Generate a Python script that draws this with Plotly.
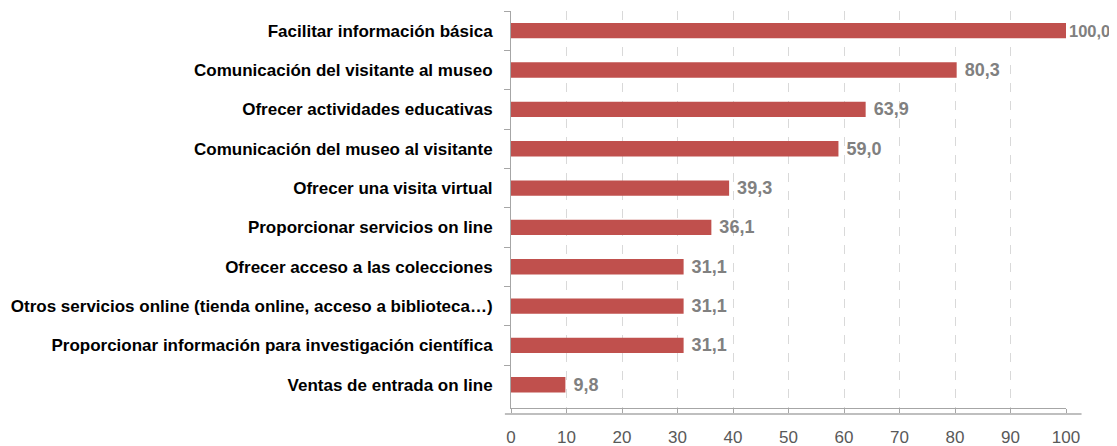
import plotly.graph_objects as go

categories = [
    "Facilitar información básica",
    "Comunicación del visitante al museo",
    "Ofrecer actividades educativas",
    "Comunicación del museo al visitante",
    "Ofrecer una visita virtual",
    "Proporcionar servicios on line",
    "Ofrecer acceso a las colecciones",
    "Otros servicios online (tienda online, acceso a biblioteca…)",
    "Proporcionar información para investigación científica",
    "Ventas de entrada on line",
]
values = [100.0, 80.3, 63.9, 59.0, 39.3, 36.1, 31.1, 31.1, 31.1, 9.8]
x_ticks = [0, 10, 20, 30, 40, 50, 60, 70, 80, 90, 100]

labels = [("" if v >= 100 else "\u00a0") + f"{v:.1f}".replace(".", ",") for v in values]
label_sizes = [16.5 if v >= 100 else 18 for v in values]

fig = go.Figure(
    go.Bar(
        y=categories,
        x=values,
        orientation="h",
        marker=dict(color="#C0504D", line=dict(width=0)),
        text=labels,
        textposition="outside",
        constraintext="none",
        textfont=dict(family="Liberation Sans, Arial, sans-serif", size=label_sizes, color="#808080", weight="bold"),
        cliponaxis=False,
        width=0.39,
    )
)

# The page body adds an 8px offset, so the figure is sized to fit inside the window.
fig.update_layout(
    width=1109,
    height=438,
    margin=dict(l=503, r=51, t=3, b=38, autoexpand=False),
    plot_bgcolor="white",
    paper_bgcolor="white",
    showlegend=False,
    xaxis=dict(
        range=[0, 100],
        tickvals=x_ticks,
        ticktext=[str(t) for t in x_ticks],
        automargin=False,
        showgrid=True,
        gridcolor="#D9D9D9",
        griddash="dash",
        gridwidth=1,
        zeroline=False,
        showline=True,
        linecolor="#A6A6A6",
        linewidth=1,
        ticks="outside",
        ticklen=4,
        tickcolor="#A6A6A6",
        ticklabelstandoff=10,
        tickfont=dict(family="Liberation Sans Narrow, Arial Narrow, Liberation Sans, sans-serif", size=17, color="#595959"),
    ),
    yaxis=dict(
        categoryorder="array",
        categoryarray=categories,
        range=[9.59, -0.5],
        automargin=False,
        tickson="boundaries",
        ticks="outside",
        ticklen=6,
        tickcolor="#A6A6A6",
        showline=True,
        linecolor="#A6A6A6",
        linewidth=1,
        showgrid=False,
        zeroline=False,
        ticklabelstandoff=14,
        tickfont=dict(family="Liberation Sans, Arial, sans-serif", size=17, color="#000000", weight="bold"),
    ),
)

fig.add_shape(
    type="line",
    xref="paper",
    yref="paper",
    x0=-0.011,
    x1=1.028,
    y0=-0.015,
    y1=-0.015,
    line=dict(color="#BFBFBF", width=2),
)

fig.write_html("out.html")
